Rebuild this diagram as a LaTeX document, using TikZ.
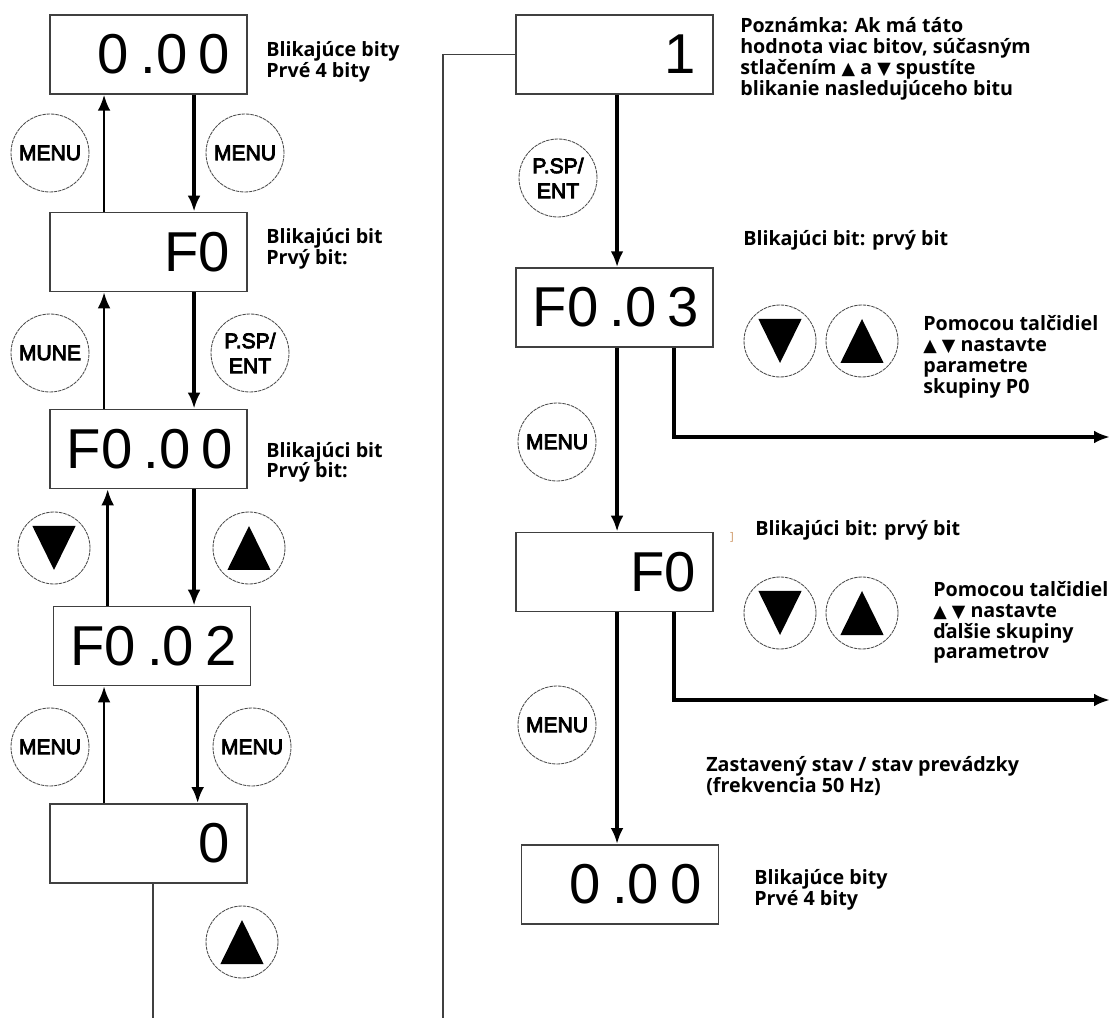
\documentclass[tikz,border=0pt]{standalone}
\usepackage{fontspec}
\setmainfont{Open Sans}
\newfontfamily\digitfont{Liberation Sans}
\newfontfamily\keyfont{Liberation Sans}[FakeBold=4]
\newfontfamily\symfont{DejaVu Sans}
\usepackage{tikz}
\usetikzlibrary{calc, arrows.meta, positioning}
\definecolor{bracketc}{RGB}{205,150,100}
\newcommand{\gp}{\kern.2em}
\newcommand{\trup}{{\fontsize{12.5pt}{12pt}\symfont ▲}}
\newcommand{\trdn}{{\fontsize{12.5pt}{12pt}\symfont ▼}}
\tikzstyle{display} = [draw=black!75, line width=1.2pt, rectangle,
    minimum height=1.975cm, text width=4.075cm, inner xsep=0.425cm,
    inner ysep=0pt, align=right, font=\digitfont\fontsize{40pt}{40pt}\selectfont]
\tikzstyle{key} = [draw=black!70, circle, line width=0.6pt,
    dash pattern=on 2.5pt off 0.6pt, minimum size=1.95cm, inner sep=0pt,
    align=center, font=\keyfont\fontsize{15pt}{17.8pt}\selectfont]
\tikzstyle{arrowkey} = [key, minimum size=1.8cm]
\tikzstyle{note} = [anchor=west, inner sep=0pt, align=left,
    font=\bfseries\fontsize{14pt}{14.8pt}\selectfont]
\tikzstyle{uparr} = [->, line width=1.7pt]
\tikzstyle{dnarr} = [->, line width=2.5pt]
\tikzstyle{wire} = [draw=black!75, line width=1pt]

\begin{document}
\begin{tikzpicture}[>={Latex[length=4mm,width=3.2mm]}]
    \useasboundingbox (0,0) rectangle (27.8,25.45);

    % left column
    \node[display, name=b1] at (3.71, 24.09) {0\gp.0\gp0};
    \node[display, name=b2] at (3.71, 19.15) {F0};
    \node[display, name=b3] at (3.71, 14.225) {F0\gp.0\gp0};
    \node[display, name=b4] at (3.8, 9.3) {F0\gp.0\gp2};
    \node[display, name=b5] at (3.71, 4.3625) {0};

    \foreach \a/\b in {b1/b2, b2/b3, b3/b4, b4/b5} {
        \draw[uparr] ($(\b.north west)+(1.375,0)$) coordinate (t) -- (t |- \a.south);
        \draw[dnarr] ($(\a.south west)+(3.625,0)$) coordinate (t) -- (t |- \b.north);
    }
    \coordinate (lbot) at (3.825, 0);
    \draw[wire] (lbot |- b5.south) -- (lbot);

    \node[key, name=m1] at (1.25, 21.625) {MENU};
    \node[key, name=m2] at (6.125, 21.625) {MENU};
    \node[key, name=m3] at (1.25, 16.625) {MUNE};
    \node[key, name=p1] at (6.25, 16.625) {P.SP/\\ENT};
    \node[arrowkey, name=d1] at (1.35, 11.75) {};
    \node[arrowkey, name=u1] at (6.225, 11.75) {};
    \node[key, name=m4] at (1.25, 6.775) {MENU};
    \node[key, name=m5] at (6.3, 6.775) {MENU};
    \node[arrowkey, name=u2] at (6.05, 1.9) {};

    \node[note, name=n1, font=\bfseries\fontsize{14pt}{12.2pt}\selectfont] at (6.65, 23.91) {Blikajúce bity\\Prvé 4 bity};
    \node[note, name=n2, font=\bfseries\fontsize{14pt}{12.8pt}\selectfont] at (6.65, 19.225) {Blikajúci bit\\Prvý bit:};
    \node[note, name=n3] at (6.65, 13.89) {Blikajúci bit\\Prvý bit:};

    % right column
    \node[display, name=r1] at (15.36, 24.09) {1};
    \node[display, name=r2] at (15.36, 17.76) {F0\gp.0\gp3};
    \node[display, name=r3] at (15.36, 11.15) {F0};
    \node[display, name=r4] at (15.5, 3.34) {0\gp.0\gp0};

    \foreach \a/\b in {r1/r2, r2/r3, r3/r4}
        \draw[dnarr] ($(\a.south west)+(2.55,0)$) coordinate (t) -- (t |- \b.north);

    \coordinate (rbot) at (11.075, 0);
    \draw[wire] (r1.west) -| (rbot);

    \coordinate (e1) at (27.75, 14.525);
    \coordinate (e2) at (27.75, 7.95);
    \draw[dnarr] ($(r2.south west)+(3.975,0)$) |- (e1);
    \draw[dnarr] ($(r3.south west)+(3.975,0)$) |- (e2);

    \node[key, name=p2] at (13.95, 21.0) {P.SP/\\ENT};
    \node[key, name=m6] at (13.925, 14.4) {MENU};
    \node[key, name=m7] at (13.925, 7.325) {MENU};
    \node[arrowkey, name=d2] at (19.5, 16.925) {};
    \node[arrowkey, name=u3] at (21.55, 16.925) {};
    \node[arrowkey, name=d3] at (19.5, 10.125) {};
    \node[arrowkey, name=u4] at (21.55, 10.125) {};

    \foreach \k in {u1, u2, u3, u4}
        \fill ($(\k)+(-0.54,-0.55)$) -- ($(\k)+(0.54,-0.55)$) -- ($(\k)+(0,0.55)$) -- cycle;
    \foreach \k in {d1, d2, d3}
        \fill ($(\k)+(-0.54,0.55)$) -- ($(\k)+(0.54,0.55)$) -- ($(\k)+(0,-0.55)$) -- cycle;

    \node[note, name=n4, font=\bfseries\fontsize{14pt}{15pt}\selectfont] at (18.5, 23.975)
        {Poznámka: Ak má táto\\hodnota viac bitov, súčasným\\stlačením \trup{} a \trdn{} spustíte\\blikanie nasledujúceho bitu};
    \node[note, name=n5] at (18.575, 19.45) {Blikajúci bit: prvý bit};
    \node[note, name=n6] at (23.075, 16.525) {Pomocou talčidiel\\\trup{} \trdn{} nastavte\\parametre\\skupiny P0};
    \node[note, name=n7] at (18.875, 12.2) {Blikajúci bit: prvý bit};
    \node[name=br, text=bracketc, inner sep=0pt, font=\fontsize{8pt}{8pt}\selectfont] at (18.3, 12.025) {]};
    \node[note, name=n8] at (23.325, 9.8875) {Pomocou talčidiel\\\trup{} \trdn{} nastavte\\ďalšie skupiny\\parametrov};
    \node[note, name=n9] at (17.65, 6.05) {Zastavený stav / stav prevádzky\\(frekvencia 50 Hz)};
    \node[note, name=n10] at (18.85, 3.2) {Blikajúce bity\\Prvé 4 bity};
\end{tikzpicture}
\end{document}
